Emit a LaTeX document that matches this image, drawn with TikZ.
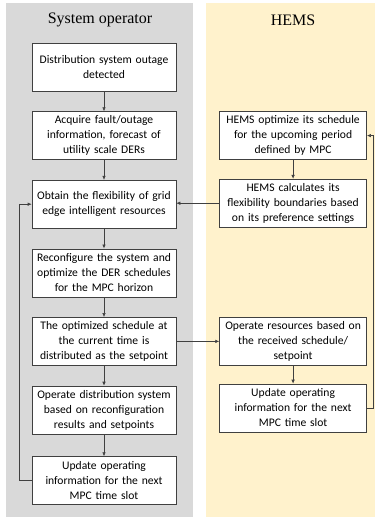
\documentclass[tikz,border=0pt]{standalone}
\usepackage{fontspec}
\setmainfont{Carlito}
\newfontfamily\titlefont{Liberation Serif}
\usepackage{tikz}
\usetikzlibrary{arrows.meta,positioning,calc}
\definecolor{opGrey}{HTML}{D9D9D9}
\definecolor{hemsBeige}{HTML}{FFF2CC}
\definecolor{lineGrey}{HTML}{404040}

\begin{document}
\begin{tikzpicture}[x=1pt,y=-1pt,>={Latex[length=4pt,width=3.5pt]},node distance=20pt and 43pt,
  box/.style={draw=lineGrey,line width=0.6pt,fill=white,align=center,text width=144pt,minimum width=144pt,minimum height=48pt,inner sep=0pt,font=\fontsize{11.6}{15}\selectfont},
  hbox/.style={box,text width=147pt,minimum width=147pt},
  title/.style={font=\titlefont\fontsize{16}{18}\selectfont}]
\useasboundingbox (0,0) rectangle (375,520);
\fill[opGrey] (6,3) rectangle (193,517);
\fill[hemsBeige] (206,3) rectangle (375,517);
\node[title] (sotitle) at (100,20) {System operator};
\node[title] (hemstitle) at (293,20) {HEMS};
\node[box] (b1) at (104,67) {Distribution system outage\\detected};
\node[box,below=of b1] (b2) {Acquire fault/outage\\information, forecast of\\utility scale DERs};
\node[box,below=of b2] (b3) {Obtain the flexibility of grid\\edge intelligent resources};
\node[box,below=of b3] (b4) {Reconfigure the system and\\optimize the DER schedules\\for the MPC horizon};
\node[box,below=of b4] (b5) {The optimized schedule at\\the current time is\\distributed as the setpoint};
\node[box,below=of b5] (b6) {Operate distribution system\\based on reconfiguration\\results and setpoints};
\node[box,below=22pt of b6] (b7) {Update operating\\information for the next\\MPC time slot};
\node[hbox,right=of b2] (r1) {HEMS optimize its schedule\\for the upcoming period\\defined by MPC};
\node[hbox,below=19pt of r1] (r2) {HEMS calculates its\\flexibility boundaries based\\on its preference settings};
\node[hbox,right=of b5] (r3) {Operate resources based on\\the received schedule/\\setpoint};
\node[hbox,below=18pt of r3] (r4) {Update operating\\information for the next\\MPC time slot};
\coordinate (lloop) at (19,0);
\coordinate (rloop) at (373,0);
\draw[->,lineGrey,line width=0.6pt] (b1)--(b2);\draw[->,lineGrey,line width=0.6pt] (b2)--(b3);
\draw[->,lineGrey,line width=0.6pt] (b3)--(b4);\draw[->,lineGrey,line width=0.6pt] (b4)--(b5);
\draw[->,lineGrey,line width=0.6pt] (b5)--(b6);\draw[->,lineGrey,line width=0.6pt] (b6)--(b7);
\draw[->,lineGrey,line width=0.6pt] (r1)--(r2);\draw[->,lineGrey,line width=0.6pt] (r3)--(r4);
\draw[->,lineGrey,line width=0.6pt] (r2.west)--(b3.east|-r2.west);
\draw[->,lineGrey,line width=0.6pt] (b5.east)--(r3.west);
\draw[->,lineGrey,line width=0.6pt] (b7.west)--(b7.west-|lloop)|-(b3.west);
\draw[->,lineGrey,line width=0.6pt] (r4.east)--(r4.east-|rloop)|-(r1.east);
\end{tikzpicture}
\end{document}
